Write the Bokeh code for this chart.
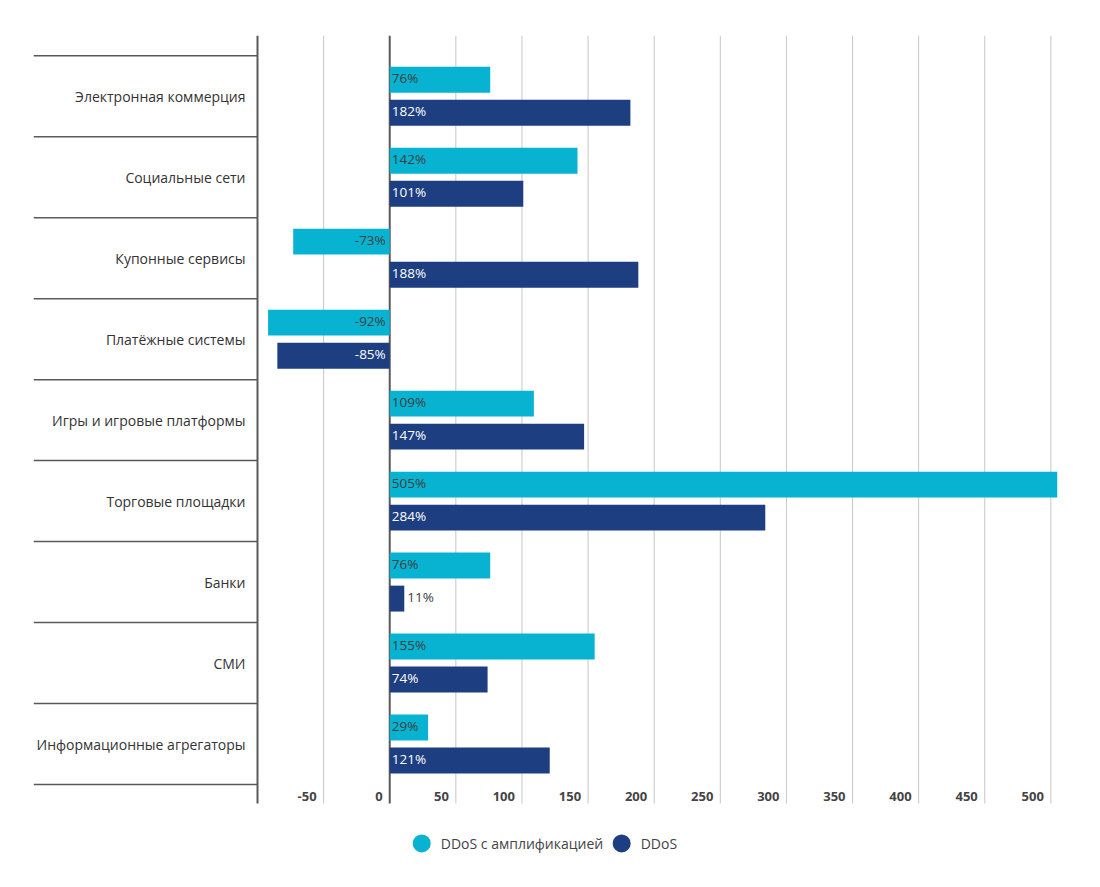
from bokeh.plotting import figure
from bokeh.models import Range1d, ColumnDataSource
from bokeh.core.properties import value
from bokeh.embed import file_html
from bokeh.resources import INLINE

categories = [
    "Электронная коммерция",
    "Социальные сети",
    "Купонные сервисы",
    "Платёжные системы",
    "Игры и игровые платформы",
    "Торговые площадки",
    "Банки",
    "СМИ",
    "Информационные агрегаторы",
]
series_names = ["DDoS с амплификацией", "DDoS"]
ddos_ampl = [76, 142, -73, -92, 109, 505, 76, 155, 29]
ddos = [182, 101, 188, -85, 147, 284, 11, 74, 121]
tick_values = [-50, 0, 50, 100, 150, 200, 250, 300, 350, 400, 450, 500]
tick_labels = ["-50", "0", "50", "100", "150", "200", "250", "300", "350", "400", "450", "500"]

CYAN = "#07b3d1"
NAVY = "#1d3e80"
FONT = "Open Sans"

X_MIN, X_AXIS, X_MAX = -269.4, -100, 505
Y_TOP, Y_BOTTOM = -0.25, 10.0
n = len(categories)

p = figure(width=1084, height=870, output_backend="svg", toolbar_location=None,
           x_range=Range1d(X_MIN, X_MAX), y_range=Range1d(Y_BOTTOM, Y_TOP),
           x_axis_type=None, y_axis_type=None,
           min_border_left=33, min_border_right=27, min_border_top=35, min_border_bottom=5)
p.outline_line_color = None
p.background_fill_color = "white"

grid_bottom = n + 0.235

# vertical grid lines
gt = [t for t in tick_values if t != 0]
p.segment(x0=gt, x1=gt, y0=[Y_TOP] * len(gt), y1=[grid_bottom] * len(gt),
          line_color="#c6c6c6", line_width=1)
# zero line and left axis
p.segment(x0=[0, X_AXIS], x1=[0, X_AXIS], y0=[Y_TOP, Y_TOP], y1=[grid_bottom, grid_bottom],
          line_color="#5a5a5a", line_width=2)
# category separators
b = list(range(n + 1))
p.segment(x0=[X_MIN] * len(b), x1=[X_AXIS] * len(b), y0=b, y1=b,
          line_color="#5a5a5a", line_width=1.5)

centers = [i + 0.5 for i in range(n)]
off = 0.204
h = 0.32
y1 = [c - off for c in centers]
y2 = [c + off for c in centers]
p.hbar(y=y1, left=0, right=ddos_ampl, height=h, fill_color=CYAN, line_color=None)
p.hbar(y=y2, left=0, right=ddos, height=h, fill_color=NAVY, line_color=None)

def label_data(vals, ys, inside_color):
    xs, offs, aligns, colors, texts = [], [], [], [], []
    for v in vals:
        texts.append(f"{v}%")
        if v < 0:
            xs.append(0); offs.append(-4); aligns.append("right"); colors.append(inside_color)
        elif v < 20:
            xs.append(v); offs.append(3); aligns.append("left"); colors.append("#3d3d3d")
        else:
            xs.append(0); offs.append(2); aligns.append("left"); colors.append(inside_color)
    return ColumnDataSource(dict(x=xs, y=ys, xo=offs, al=aligns, c=colors, t=texts))

for vals, ys, col in [(ddos_ampl, y1, "#3d3d3d"), (ddos, y2, "white")]:
    src = label_data(vals, ys, col)
    p.text(x="x", y="y", text="t", x_offset="xo", y_offset=-1.5, text_align="al",
           text_color="c", text_baseline="middle", text_font=value(FONT),
           text_font_size="13.5px", source=src)

# category labels
p.text(x=[X_AXIS] * n, y=centers, text=categories, x_offset=-12, text_align="right",
       text_baseline="middle", text_color="#333333", text_font=value(FONT),
       text_font_size="14px")

# tick labels
p.text(x=tick_values, y=[n + 0.148] * len(tick_values), text=tick_labels, x_offset=-7,
       text_align="right", text_baseline="middle", text_color="#444444",
       text_font=value(FONT), text_font_size="13px", text_font_style="bold")

# legend
ly = n + 0.728
p.scatter(x=[24.2, 175.4], y=[ly, ly], size=18, marker="circle",
          fill_color=[CYAN, NAVY], line_color=None)
p.text(x=[38.6, 189.8], y=[ly, ly], text=series_names, text_align="left",
       text_baseline="middle", text_color="#444444", text_font=value(FONT),
       text_font_size="14px")

open("out.html", "w").write(file_html(p, INLINE))
